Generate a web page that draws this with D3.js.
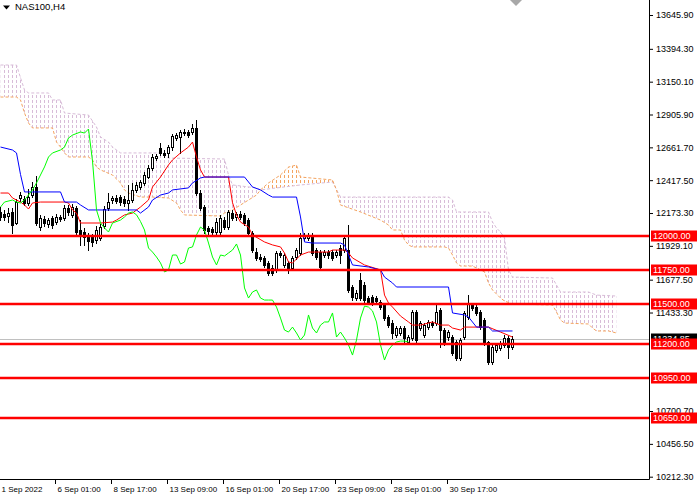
<!DOCTYPE html>
<html>
<head>
<meta charset="utf-8">
<script src="https://cdnjs.cloudflare.com/ajax/libs/d3/7.8.5/d3.min.js"></script>
<style>
  body { margin: 0; background: #fff; }
  svg { display: block; font-family: "Liberation Sans", Arial, sans-serif; }
</style>
</head>
<body>
<svg id="chart" width="700" height="500"></svg>
<script>
// ---- data (NAS100, H4, bar index 0..128) ----
const symbol = 'NAS100,H4'

const opens = [
  12181, 12166, 12151, 12181, 12099, 12285, 12277, 12248, 12307, 12367,
  12069, 12129, 12091, 12136, 12106, 12144, 12136, 12210, 12159, 12210,
  12047, 12032, 12002, 11995, 11973, 11988, 12077, 12210, 12270, 12285,
  12292, 12277, 12248, 12270, 12345, 12367, 12397, 12441, 12508, 12582,
  12657, 12620, 12620, 12664, 12731, 12739, 12768, 12776, 12776, 12806,
  12322, 12218, 12062, 12054, 12032, 12032, 12121, 12069, 12173, 12144,
  12166, 12159, 12121, 12025, 11883, 11846, 11839, 11802, 11765, 11750,
  11876, 11787, 11802, 11765, 11846, 11876, 11988, 11988, 12010, 11898,
  11883, 11861, 11883, 11883, 11861, 11913, 11898, 11898, 11623, 11541,
  11675, 11638, 11541, 11548, 11541, 11511, 11489, 11400, 11355, 11266,
  11281, 11318, 11214, 11244, 11437, 11318, 11266, 11325, 11355, 11355,
  11452, 11303, 11251, 11251, 11214, 11095, 11251, 11400, 11489, 11474,
  11437, 11378, 11214, 11065, 11155, 11170, 11192, 11244, 11177
]
const highs = [
  12218, 12196, 12210, 12210, 12277, 12330, 12300, 12352, 12404, 12449,
  12159, 12151, 12136, 12151, 12166, 12159, 12233, 12233, 12240, 12225,
  12121, 12062, 12025, 12017, 12077, 12091, 12225, 12322, 12300, 12307,
  12307, 12300, 12382, 12397, 12404, 12419, 12479, 12531, 12612, 12612,
  12694, 12642, 12679, 12761, 12768, 12791, 12798, 12791, 12835, 12865,
  12345, 12233, 12077, 12069, 12136, 12159, 12144, 12196, 12196, 12181,
  12188, 12173, 12136, 12040, 11913, 11869, 11854, 11817, 11787, 11891,
  11891, 11876, 11817, 11854, 11913, 12025, 12025, 12025, 12025, 11913,
  11898, 11898, 11898, 11898, 11898, 11936, 12002, 12084, 11638, 11601,
  11727, 11660, 11556, 11563, 11556, 11526, 11504, 11415, 11378, 11333,
  11333, 11333, 11266, 11452, 11452, 11370, 11355, 11378, 11370, 11504,
  11467, 11318, 11303, 11266, 11229, 11244, 11445, 11563, 11504, 11489,
  11452, 11392, 11221, 11192, 11207, 11221, 11266, 11259, 11259
]
const lows = [
  12121, 12121, 12106, 12025, 12091, 12263, 12233, 12233, 12292, 12084,
  12047, 12077, 12069, 12062, 12091, 12114, 12121, 12159, 12144, 12017,
  11936, 11936, 11898, 11928, 11950, 11973, 12062, 12196, 12248, 12248,
  12233, 12225, 12196, 12255, 12330, 12352, 12382, 12434, 12494, 12568,
  12605, 12590, 12590, 12642, 12716, 12620, 12753, 12739, 12761, 12307,
  12196, 12025, 12017, 12017, 12017, 12017, 12054, 12054, 12121, 12121,
  12129, 12084, 12010, 11883, 11824, 11817, 11772, 11713, 11713, 11735,
  11846, 11772, 11727, 11750, 11831, 11861, 11973, 11973, 11861, 11831,
  11757, 11846, 11839, 11824, 11846, 11802, 11883, 11586, 11526, 11526,
  11526, 11511, 11496, 11489, 11496, 11459, 11378, 11325, 11244, 11251,
  11266, 11214, 11199, 11229, 11214, 11303, 11251, 11310, 11325, 11340,
  11177, 11192, 11229, 11117, 11080, 11080, 11236, 11385, 11452, 11415,
  11310, 11192, 11051, 11051, 11140, 11155, 11177, 11095, 11162
]
const closes = [
  12144, 12144, 12173, 12084, 12255, 12307, 12248, 12292, 12367, 12099,
  12136, 12099, 12121, 12084, 12144, 12129, 12210, 12181, 12218, 12032,
  12002, 11995, 11966, 11958, 12047, 12069, 12203, 12255, 12285, 12263,
  12255, 12248, 12270, 12345, 12382, 12404, 12456, 12508, 12590, 12597,
  12620, 12605, 12664, 12746, 12753, 12776, 12776, 12753, 12806, 12322,
  12210, 12047, 12040, 12032, 12106, 12136, 12069, 12181, 12136, 12166,
  12144, 12099, 12025, 11898, 11839, 11831, 11787, 11727, 11727, 11876,
  11861, 11861, 11750, 11839, 11898, 11988, 12010, 12010, 11876, 11846,
  11772, 11883, 11861, 11839, 11883, 11861, 11988, 11601, 11548, 11579,
  11541, 11526, 11511, 11504, 11519, 11474, 11392, 11340, 11281, 11318,
  11318, 11244, 11251, 11437, 11229, 11355, 11340, 11363, 11340, 11437,
  11303, 11214, 11288, 11132, 11095, 11229, 11430, 11504, 11467, 11430,
  11325, 11214, 11065, 11177, 11192, 11207, 11244, 11177, 11234.85
]

// ichimoku lines as [bar index, price] vertices
const tenkan = [
  [0,12322],[2,12322],[3,12285],[5,12255],[6,12233],[7,12203],[8,12248],[10,12255],[16,12255],
  [17,12248],[18,12196],[19,12173],[20,12099],[25,12099],[28,12106],[29,12121],[31,12159],
  [33,12173],[35,12218],[37,12270],[38,12367],[40,12441],[42,12531],[43,12568],[45,12620],
  [47,12664],[48,12701],[49,12590],[50,12494],[51,12441],[57,12441],[58,12250],[59,12160],
  [60,12106],[62,12069],[63,12010],[66,11958],[68,11936],[70,11921],[71,11876],[72,11809],
  [73,11802],[74,11831],[75,11861],[77,11883],[82,11883],[83,11898],[86,11898],[87,11876],
  [88,11839],[91,11787],[95,11750],[96,11563],[97,11504],[98,11474],[100,11407],[102,11363],
  [103,11340],[105,11340],[108,11363],[110,11340],[112,11340],[113,11318],[115,11303],
  [116,11325],[122,11325],[125,11288],[128,11251]
]
const kijun = [
  [0,12664],[3,12642],[4,12620],[5,12460],[6,12330],[15,12330],[16,12255],[19,12255],[20,12233],
  [22,12196],[34,12196],[35,12173],[37,12218],[38,12270],[40,12307],[42,12322],[43,12345],
  [47,12360],[48,12397],[50,12434],[51,12441],[61,12441],[62,12404],[63,12367],[65,12345],
  [67,12307],[68,12292],[74,12292],[75,12144],[76,11958],[78,11950],[85,11950],[86,11936],
  [87,11861],[88,11787],[92,11772],[95,11750],[96,11697],[98,11653],[99,11623],[112,11623],
  [113,11430],[116,11415],[117,11400],[119,11325],[122,11325],[123,11296],[128,11296]
]
const chikou = [
  [0,12218],[1,12255],[3,12270],[4,12255],[5,12248],[6,12270],[8,12345],[9,12397],[11,12516],
  [12,12590],[13,12620],[15,12642],[16,12664],[17,12731],[18,12753],[20,12776],[21,12768],
  [22,12798],[23,12560],[24,12196],[25,12099],[26,12062],[27,12032],[28,12099],[30,12121],
  [31,12144],[32,12173],[33,12181],[34,12160],[35,12110],[36,12047],[37,11913],[38,11883],
  [39,11846],[40,11802],[41,11735],[42,11750],[43,11861],[44,11861],[45,11794],[46,11809],
  [47,11913],[48,11921],[49,12010],[50,12069],[51,12047],[52,11950],[53,11846],[54,11787],
  [55,11861],[56,11854],[57,11876],[58,11898],[59,11943],[60,11861],[61,11616],[62,11541],
  [63,11586],[64,11601],[65,11541],[66,11526],[67,11526],[68,11526],[69,11474],[70,11392],
  [71,11303],[72,11288],[73,11325],[74,11281],[75,11229],[76,11266],[77,11415],[78,11318],
  [79,11281],[80,11340],[81,11363],[82,11363],[83,11430],[84,11251],[85,11288],[86,11244],
  [87,11192],[88,11117],[89,11229],[90,11392],[91,11481],[92,11474],[93,11445],[94,11363],
  [95,11192],[96,11080],[97,11155],[98,11192],[99,11214],[100,11221],[101,11221],[102,11214]
]
const spanA = [
  [0,13036],[4,13036],[5,13014],[6,12917],[7,12843],[8,12806],[13,12806],[14,12701],[15,12664],
  [16,12620],[17,12590],[22,12590],[23,12568],[24,12515],[25,12494],[28,12456],[30,12397],
  [31,12345],[32,12322],[35,12292],[38,12292],[42,12285],[44,12248],[45,12196],[46,12159],
  [55,12151],[56,12173],[58,12196],[60,12233],[62,12270],[64,12307],[65,12345],[67,12397],
  [70,12456],[72,12515],[74,12530],[75,12441],[83,12419],[84,12345],[85,12233],[90,12181],
  [95,12121],[97,12084],[98,12047],[100,12047],[101,11973],[102,11936],[103,11921],[111,11921],
  [112,11913],[113,11861],[114,11802],[115,11779],[118,11779],[121,11735],[122,11653],
  [123,11601],[125,11541],[126,11519],[128,11497],[138,11489],[139,11437],[140,11378],
  [141,11355],[147,11348],[148,11318],[149,11296],[152,11296],[154,11281]
]
const spanB = [
  [0,13274],[4,13274],[5,13180],[6,13088],[7,13066],[12,13066],[13,13014],[15,13014],[16,12917],
  [22,12902],[24,12813],[25,12739],[27,12701],[28,12664],[30,12620],[40,12620],[42,12582],
  [56,12575],[57,12456],[58,12382],[64,12360],[65,12345],[75,12382],[83,12404],[85,12292],
  [112,12292],[113,12270],[114,12181],[122,12181],[123,12106],[124,12062],[125,12032],
  [126,11988],[127,11750],[128,11697],[138,11690],[139,11638],[140,11586],[147,11586],
  [149,11563],[154,11556]
]

const levels = [12000, 11750, 11500, 11200, 10950, 10650]
const bidPrice = 11234.85
// 11189.10 and 10944.90 sit under the red tags, so they are left out
const yTicks = [13645.9, 13394.3, 13150.1, 12905.9, 12661.7, 12417.5, 12173.3, 11929.1,
                11677.5, 11433.3, 10700.7, 10456.5, 10212.3]
const xTickIdx = [0, 14, 28, 42, 56, 70, 84, 98, 112]
const xTickLabels = ['1 Sep 2022', '6 Sep 01:00', '8 Sep 17:00', '13 Sep 09:00', '16 Sep 01:00',
                     '20 Sep 17:00', '23 Sep 09:00', '28 Sep 01:00', '30 Sep 17:00']

// ---- layout ----
const plotW = 649, plotH = 479
const svg = d3.select('#chart')
const font = '"Liberation Sans", Arial, sans-serif'

const x = d3.scaleLinear().domain([0, 154]).range([0.5, 616.5])
const y = d3.scaleLinear().domain([10195.2, 13757.5]).range([plotH, 0])
const ry = v => Math.round(y(v))

const defs = svg.append('defs')
defs.append('clipPath').attr('id', 'plot')
  .append('rect').attr('width', plotW).attr('height', plotH)

// dotted hatch used by the cloud
function hatch(id, color) {
  const p = defs.append('pattern').attr('id', id)
    .attr('patternUnits', 'userSpaceOnUse')
    .attr('width', 4).attr('height', 5)
  p.append('rect').attr('x', 0).attr('y', 0).attr('width', 1).attr('height', 3).attr('fill', color)
}
hatch('hatchBear', '#D8BCD8')
hatch('hatchBull', '#F4A460')

const ptsA = spanA.map(d => [x(d[0]), y(d[1])])
const ptsB = spanB.map(d => [x(d[0]), y(d[1])])
const x0 = x(spanA[0][0]), x1 = x(spanA[spanA.length - 1][0])

// region above span A (bearish twist) and below it (bullish twist)
defs.append('clipPath').attr('id', 'aboveA')
  .append('path').attr('d', 'M' + ptsA.concat([[x1, 0], [x0, 0]]).join('L') + 'Z')
defs.append('clipPath').attr('id', 'belowA')
  .append('path').attr('d', 'M' + ptsA.concat([[x1, plotH], [x0, plotH]]).join('L') + 'Z')

const cloudD = 'M' + ptsA.concat(ptsB.slice().reverse()).join('L') + 'Z'
const g = svg.append('g').attr('clip-path', 'url(#plot)')

g.append('path').attr('d', cloudD).attr('fill', 'url(#hatchBear)')
  .attr('clip-path', 'url(#aboveA)')
g.append('path').attr('d', cloudD).attr('fill', 'url(#hatchBull)')
  .attr('clip-path', 'url(#belowA)')

const line = d3.line().x(d => x(d[0])).y(d => y(d[1]))

g.append('path').datum(spanB).attr('d', line)
  .attr('fill', 'none').attr('stroke', '#D8BCD8').attr('stroke-dasharray', '3,2')
g.append('path').datum(spanA).attr('d', line)
  .attr('fill', 'none').attr('stroke', '#F4A460').attr('stroke-dasharray', '3,2')

// bid line
g.append('line').attr('x1', 0).attr('x2', plotW)
  .attr('y1', ry(bidPrice) + 0.5).attr('y2', ry(bidPrice) + 0.5)
  .attr('stroke', '#C0C0C0')

// candles
const candles = opens.map((o, i) => ({ i, o, h: highs[i], l: lows[i], c: closes[i] }))
const gc = g.append('g')
gc.selectAll('line').data(candles).join('line')
  .attr('x1', d => x(d.i)).attr('x2', d => x(d.i))
  .attr('y1', d => ry(d.h)).attr('y2', d => ry(d.l) + 1)
  .attr('stroke', '#000')
gc.selectAll('rect').data(candles).join('rect')
  .each(function (d) {
    const r = d3.select(this)
    const top = Math.min(ry(d.o), ry(d.c)), bot = Math.max(ry(d.o), ry(d.c))
    if (d.c >= d.o) {
      r.attr('x', x(d.i) - 1).attr('y', top + 0.5).attr('width', 2)
        .attr('height', Math.max(bot - top, 1))
        .attr('fill', '#fff').attr('stroke', '#000')
    } else {
      r.attr('x', x(d.i) - 1.5).attr('y', top).attr('width', 3)
        .attr('height', Math.max(bot - top + 1, 1))
        .attr('fill', '#000')
    }
  })

// tenkan / kijun / chikou
g.append('path').datum(tenkan).attr('d', line).attr('fill', 'none').attr('stroke', '#FF0000')
g.append('path').datum(kijun).attr('d', line).attr('fill', 'none').attr('stroke', '#0000FF')
g.append('path').datum(chikou).attr('d', line).attr('fill', 'none').attr('stroke', '#00FF00')

// horizontal levels
svg.append('g').selectAll('line').data(levels).join('line')
  .attr('x1', 0).attr('x2', plotW)
  .attr('y1', d => ry(d)).attr('y2', d => ry(d))
  .attr('stroke', '#FF0000').attr('stroke-width', 2.5)

// ---- axes ----
const yAxis = d3.axisRight(y).tickValues(yTicks).tickSize(4).tickPadding(3)
  .tickFormat(d3.format('.2f'))
const gy = svg.append('g').attr('transform', `translate(${plotW},0)`).call(yAxis)
gy.select('.domain').remove()
gy.attr('font-family', font).attr('font-size', 9)
gy.selectAll('line').attr('stroke', '#000')
gy.selectAll('text').attr('fill', '#000')

const xAxis = d3.axisBottom(x).tickValues(xTickIdx).tickSize(5).tickPadding(2)
  .tickFormat((d, i) => xTickLabels[i])
const gx = svg.append('g').attr('transform', `translate(-1.5,${plotH})`).call(xAxis)
gx.select('.domain').remove()
gx.attr('font-family', font).attr('font-size', 8)
gx.selectAll('line').attr('stroke', '#000')
gx.selectAll('text').attr('fill', '#000').attr('text-anchor', 'start').attr('x', 2)

svg.append('line').attr('x1', plotW + 0.5).attr('x2', plotW + 0.5)
  .attr('y1', 0).attr('y2', plotH + 0.5).attr('stroke', '#000')
svg.append('line').attr('x1', 0).attr('x2', plotW + 0.5)
  .attr('y1', plotH + 0.5).attr('y2', plotH + 0.5).attr('stroke', '#000')

// price tags on the axis
function tag(v, fill) {
  const t = svg.append('g').attr('transform', `translate(${plotW + 2},${ry(v)})`)
  t.append('rect').attr('x', 0).attr('y', -5.5).attr('width', 46).attr('height', 11).attr('fill', fill)
  t.append('text').attr('x', 2).attr('y', 0).attr('dy', '0.35em')
    .attr('font-family', font).attr('font-size', 9).attr('fill', '#fff')
    .text(d3.format('.2f')(v))
}
tag(bidPrice, '#000')
levels.forEach(v => tag(v, '#FF0000'))

// title and chart shift marker
svg.append('path').attr('d', 'M3,5.5L10,5.5L6.5,9.5Z').attr('fill', '#000')
svg.append('text').attr('x', 15).attr('y', 7).attr('dy', '0.35em')
  .attr('font-family', font).attr('font-size', 9.5).attr('fill', '#000')
  .text(symbol)
svg.append('path').attr('d', 'M510,0L522,0L516,6Z').attr('fill', '#A8A8A8')
</script>
</body>
</html>
